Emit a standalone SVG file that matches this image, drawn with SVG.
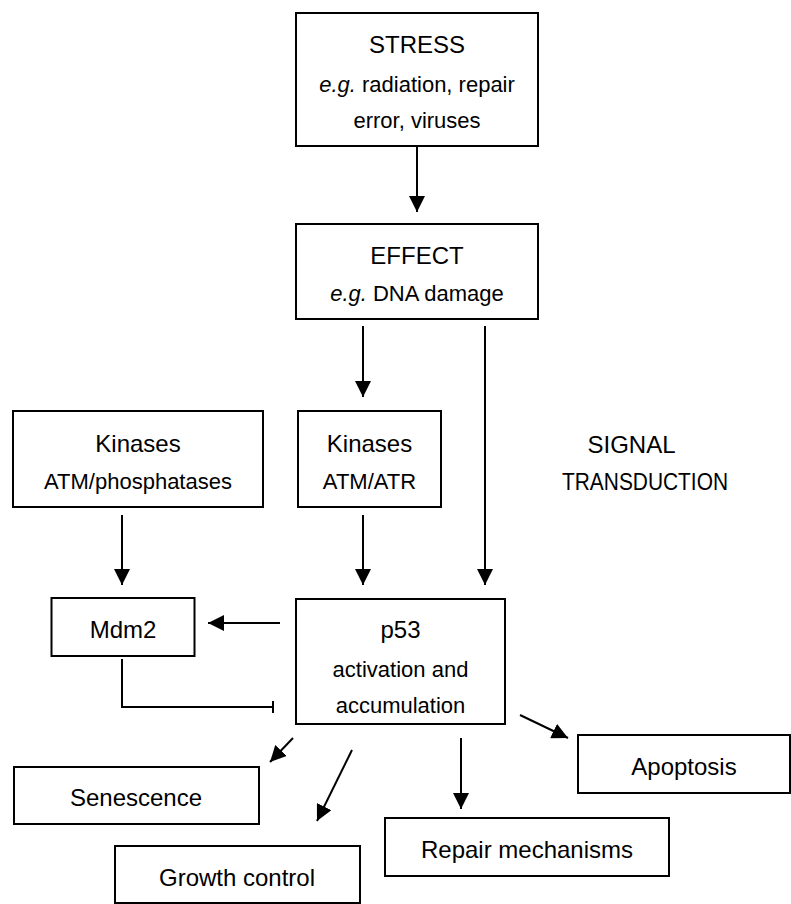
<svg xmlns="http://www.w3.org/2000/svg" width="791" height="904" viewBox="0 0 791 904">
<style>
.box{fill:#fff;stroke:#000;stroke-width:2}
.t{font-family:"Liberation Sans",Arial,sans-serif;font-size:24px;fill:#000;text-anchor:middle}
.s{font-size:22px}
.c{fill:none;stroke:#000;stroke-width:2}
</style>
<defs>
<marker id="ah" markerUnits="userSpaceOnUse" markerWidth="16" markerHeight="16" viewBox="0 0 14 14" refX="14" refY="7" orient="auto">
<path d="M0,0 L14,7 L0,14 Z" fill="#000"/>
</marker>
</defs>
<rect width="791" height="904" fill="#fff"/>
<g id="connectors">
<line class="c" x1="417" y1="146" x2="417" y2="212" marker-end="url(#ah)"/>
<line class="c" x1="363" y1="326" x2="363" y2="397" marker-end="url(#ah)"/>
<line class="c" x1="485" y1="326" x2="485" y2="585" marker-end="url(#ah)"/>
<line class="c" x1="122" y1="515" x2="122" y2="585" marker-end="url(#ah)"/>
<line class="c" x1="363" y1="515" x2="363" y2="585" marker-end="url(#ah)"/>
<line class="c" x1="280" y1="623" x2="208" y2="623" marker-end="url(#ah)"/>
<polyline class="c" points="122,659 122,707 273,707"/>
<line class="c" x1="273" y1="701" x2="273" y2="713"/>
<line class="c" x1="293" y1="738" x2="270" y2="762" marker-end="url(#ah)"/>
<line class="c" x1="352" y1="750" x2="317" y2="821" marker-end="url(#ah)"/>
<line class="c" x1="461" y1="738" x2="461" y2="809" marker-end="url(#ah)"/>
<line class="c" x1="520" y1="715" x2="568" y2="738" marker-end="url(#ah)"/>
</g>
<g id="stress">
<rect class="box" x="296" y="13" width="242" height="133"/>
<text class="t" x="417" y="53">STRESS</text>
<text class="t s" x="417" y="92"><tspan font-style="italic">e.g.</tspan> radiation, repair</text>
<text class="t s" x="417" y="128">error, viruses</text>
</g>
<g id="effect">
<rect class="box" x="296" y="224" width="242" height="95"/>
<text class="t" x="417" y="264">EFFECT</text>
<text class="t s" x="417" y="301"><tspan font-style="italic">e.g.</tspan> DNA damage</text>
</g>
<g id="kinases-left">
<rect class="box" x="13" y="411" width="250" height="96"/>
<text class="t" x="138" y="452">Kinases</text>
<text class="t s" x="138" y="489">ATM/phosphatases</text>
</g>
<g id="kinases-mid">
<rect class="box" x="298" y="411" width="143" height="96"/>
<text class="t" x="369.5" y="452">Kinases</text>
<text class="t s" x="369.5" y="489">ATM/ATR</text>
</g>
<g id="signal">
<text class="t" x="631.5" y="453">SIGNAL</text>
<text class="t" x="645" y="490" textLength="166" lengthAdjust="spacingAndGlyphs">TRANSDUCTION</text>
</g>
<g id="mdm2">
<rect class="box" x="51.5" y="598" width="143" height="58"/>
<text class="t" x="123" y="638">Mdm2</text>
</g>
<g id="p53">
<rect class="box" x="296" y="599" width="209" height="125"/>
<text class="t" x="400.5" y="638">p53</text>
<text class="t s" x="400.5" y="677">activation and</text>
<text class="t s" x="400.5" y="713">accumulation</text>
</g>
<g id="apoptosis">
<rect class="box" x="578" y="735" width="212" height="58"/>
<text class="t" x="684" y="775">Apoptosis</text>
</g>
<g id="senescence">
<rect class="box" x="14" y="767" width="245" height="57"/>
<text class="t" x="136" y="806">Senescence</text>
</g>
<g id="repair">
<rect class="box" x="385" y="818" width="284" height="58"/>
<text class="t" x="527" y="858">Repair mechanisms</text>
</g>
<g id="growth">
<rect class="box" x="115" y="846" width="245" height="57"/>
<text class="t" x="237" y="886">Growth control</text>
</g>
</svg>
